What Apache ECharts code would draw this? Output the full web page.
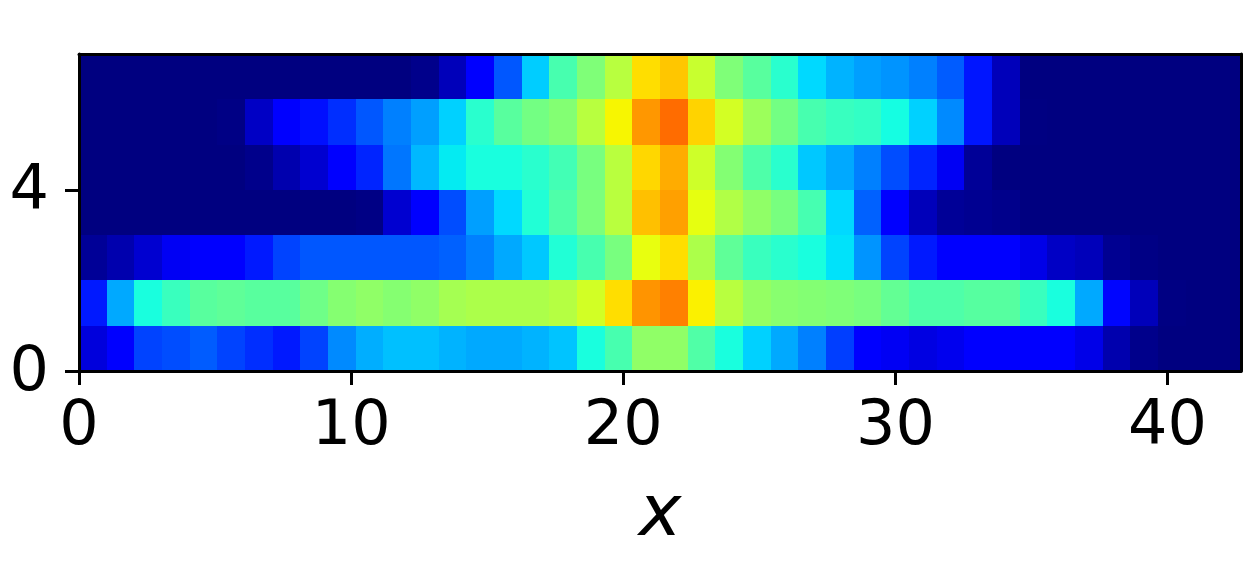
<!DOCTYPE html>
<html>
<head>
<meta charset="utf-8">
<style>html,body{margin:0;padding:0;background:#fff}#c{width:1250px;height:580px}</style>
<script src="https://cdn.jsdelivr.net/npm/echarts@6/dist/echarts.min.js"></script>
</head>
<body>
<div id="c"></div>
<script>
const xEnd = 42.7;
const yEnd = 7;
const xTickLabels = [0, 10, 20, 30, 40];
const yTickLabels = [0, 4];
const xName = 'x';

const row0 = [.08,.125,.19,.20,.215,.19,.17,.15,.19,.26,.295,.313,.313,.30,.29,.29,.30,.317,.38,.437,.525,.525,.447,.38,.329,.29,.25,.185,.12,.10,.085,.095,.115,.125,.125,.115,.09,.04,.01,0,0,0];
const row1 = [.15,.29,.38,.42,.457,.465,.457,.457,.485,.512,.525,.512,.525,.55,.56,.56,.56,.57,.605,.675,.753,.775,.655,.574,.53,.515,.51,.505,.495,.47,.445,.445,.455,.455,.42,.38,.29,.13,.05,.003,0,0];
const row2 = [.02,.04,.07,.10,.12,.125,.15,.19,.21,.21,.21,.21,.21,.22,.25,.29,.321,.39,.437,.495,.632,.675,.56,.465,.42,.40,.38,.347,.27,.19,.15,.12,.12,.11,.09,.06,.05,.015,.005,0,0,0];
const row3 = [0,0,0,0,0,0,0,0,0,0,.005,.07,.12,.20,.28,.337,.39,.445,.50,.575,.707,.74,.63,.565,.525,.495,.435,.337,.22,.12,.05,.02,.015,.01,0,0,0,0,0,0,0,0];
const row4 = [0,0,0,0,0,0,.01,.04,.07,.12,.16,.24,.305,.355,.38,.38,.40,.43,.495,.575,.682,.728,.60,.51,.445,.40,.321,.29,.25,.20,.16,.10,.02,0,0,0,0,0,0,0,0,0];
const row5 = [0,0,0,0,0,.005,.06,.12,.14,.17,.21,.25,.28,.329,.40,.457,.49,.51,.574,.65,.75,.796,.686,.607,.54,.49,.437,.418,.41,.375,.329,.26,.145,.05,.002,0,0,0,0,0,0,0];
const row6 = [0,0,0,0,0,0,0,0,0,0,0,0,.01,.05,.11,.21,.325,.437,.505,.574,.675,.70,.593,.505,.457,.40,.337,.30,.28,.27,.25,.215,.145,.05,0,0,0,0,0,0,0,0];
const rows = [row0, row1, row2, row3, row4, row5, row6];

const colIndex = row0.map((_, i) => i);
const rowIndex = rows.map((_, i) => i);
const cells = [];
rows.forEach((r, y) => r.forEach((v, x) => cells.push([x, y, v])));

// matplotlib "jet" colour ramp
const jetR = [[0,0],[.35,0],[.66,1],[.89,1],[1,.5]];
const jetG = [[0,0],[.125,0],[.375,1],[.64,1],[.91,0],[1,0]];
const jetB = [[0,.5],[.11,1],[.34,1],[.65,0],[1,0]];
function seg(s, t){
  for (let i = 1; i < s.length; i++) {
    if (t <= s[i][0]) return s[i-1][1] + (s[i][1]-s[i-1][1]) * (t-s[i-1][0]) / (s[i][0]-s[i-1][0]);
  }
  return s[s.length-1][1];
}
const jet = [];
for (let i = 0; i <= 255; i++) {
  const t = i / 255;
  jet.push('rgb(' + [jetR, jetG, jetB].map(s => Math.round(seg(s, t) * 255)).join(',') + ')');
}

function renderCell(params, api) {
  const c = api.coord([api.value(0), api.value(1)]);
  const s = api.size([1, 1]);
  const x0 = Math.round(c[0] - s[0] / 2), x1 = Math.round(c[0] + s[0] / 2);
  const y0 = Math.round(c[1] - s[1] / 2), y1 = Math.round(c[1] + s[1] / 2);
  return {
    type: 'rect',
    shape: {x: x0, y: y0, width: x1 - x0, height: y1 - y0},
    style: {fill: api.visual('color')}
  };
}

const font = '"DejaVu Sans"';
const line = {show: true, onZero: false, lineStyle: {color: '#000', width: 3}};
const chart = echarts.init(document.getElementById('c'), null, {renderer: 'canvas'});
chart.setOption({
  animation: false,
  backgroundColor: '#fff',
  tooltip: {show: false},
  grid: {left: 79, right: 9, top: 54, height: 317, containLabel: false, show: false, outerBoundsMode: 'none'},
  visualMap: {show: false, min: 0, max: 1, dimension: 2, seriesIndex: 0, inRange: {color: jet}},
  xAxis: [
    {type: 'category', data: colIndex, position: 'top', z: 5, axisLine: line, axisTick: {show: false}, axisLabel: {show: false}, splitLine: {show: false}},
    {type: 'value', min: 0, max: xEnd, interval: 10, position: 'bottom', z: 5, axisLine: line,
      axisTick: {show: true, length: 14, lineStyle: {color: '#000', width: 3}, customValues: xTickLabels},
      axisLabel: {show: true, color: '#000', fontSize: 62, fontFamily: font, margin: 26, customValues: xTickLabels},
      splitLine: {show: false},
      name: xName, nameLocation: 'middle', nameGap: 109,
      nameTextStyle: {color: '#000', fontSize: 72, fontStyle: 'italic', fontFamily: font}}
  ],
  yAxis: [
    {type: 'category', data: rowIndex, position: 'right', z: 5, axisLine: line, axisTick: {show: false}, axisLabel: {show: false}, splitLine: {show: false}},
    {type: 'value', min: 0, max: yEnd, interval: 1, position: 'left', z: 5, axisLine: line,
      axisTick: {show: true, length: 14, lineStyle: {color: '#000', width: 3}, customValues: yTickLabels},
      axisLabel: {show: true, color: '#000', fontSize: 62, fontFamily: font, margin: 30, padding: [0, 0, 0, 0], lineHeight: 62, verticalAlign: 'middle',
        formatter: '{a|{value}}', rich: {a: {fontSize: 62, fontFamily: font, color: '#000', lineHeight: 62, padding: [6, 0, 0, 0]}},
        customValues: yTickLabels},
      splitLine: {show: false}}
  ],
  series: [{
    type: 'custom', xAxisIndex: 0, yAxisIndex: 0, data: cells,
    encode: {x: 0, y: 1}, renderItem: renderCell, silent: true
  }]
});
</script>
</body>
</html>
